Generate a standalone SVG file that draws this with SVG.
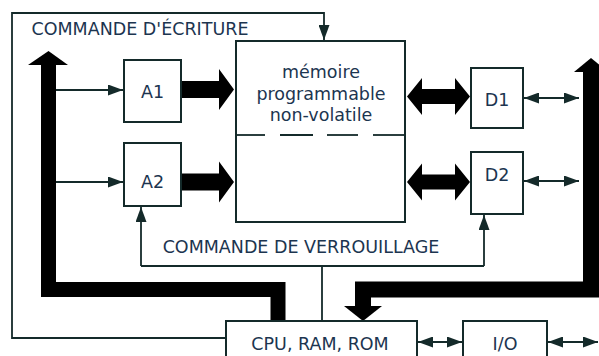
<svg xmlns="http://www.w3.org/2000/svg" width="599" height="356" viewBox="0 0 599 356">
<style>
.box{fill:#fff;stroke:#142a2a;stroke-width:2}
.ln{fill:none;stroke:#142a2a;stroke-width:1.8}
.bus{fill:none;stroke:#000;stroke-linejoin:miter}
.blk{fill:#000}
.hd{fill:#142a2a}
text{font-family:"DejaVu Sans",sans-serif;font-size:17.5px;fill:#1c3550;text-anchor:middle}
</style>
<defs>
<marker id="ah" markerWidth="15" markerHeight="11" refX="15" refY="5.5" orient="auto-start-reverse" markerUnits="userSpaceOnUse">
<path d="M0,0 L15,5.5 L0,11 Z" fill="#142a2a"/>
</marker>
</defs>
<rect width="599" height="356" fill="#fff"/>
<g id="connectors">
<!-- write command loop -->
<polyline class="ln" points="226,338 12,338 12,13 324,13 324,40" marker-end="url(#ah)"/>
<!-- latch command -->
<polyline class="ln" points="322,321 322,266"/>
<polyline class="ln" points="141,266 484,266"/>
<line class="ln" x1="141" y1="266" x2="141" y2="207" marker-end="url(#ah)"/>
<line class="ln" x1="484" y1="266" x2="484" y2="215" marker-end="url(#ah)"/>
<!-- bus to A -->
<line class="ln" x1="56" y1="90" x2="123" y2="90" marker-end="url(#ah)"/>
<line class="ln" x1="56" y1="182" x2="123" y2="182" marker-end="url(#ah)"/>
<!-- D to bus -->
<line class="ln" x1="524" y1="98" x2="579" y2="98" marker-start="url(#ah)" marker-end="url(#ah)"/>
<line class="ln" x1="524" y1="181" x2="579" y2="181" marker-start="url(#ah)" marker-end="url(#ah)"/>
<!-- CPU-I/O -->
<line class="ln" x1="418" y1="342" x2="462" y2="342" marker-start="url(#ah)" marker-end="url(#ah)"/>
<line class="ln" x1="548" y1="342" x2="598" y2="342" marker-start="url(#ah)" marker-end="url(#ah)"/>
<!-- left thick bus -->
<polyline class="bus" stroke-width="15" points="48.5,63 48.5,289.5 278,289.5 278,321"/>
<polygon class="blk" points="28,65 48.5,51 68,65"/>
<!-- right thick bus -->
<polyline class="bus" stroke-width="16" points="591,71 591,289.5 363,289.5 363,307"/>
<polygon class="blk" points="574,72 591,58 608,72"/>
<polygon class="blk" points="344,306 382,306 363,321"/>
<!-- A to memory -->
<polygon class="blk" points="181,81 219,81 219,69 234,89.5 219,110 219,98 181,98"/>
<polygon class="blk" points="181,173.5 219,173.5 219,161.5 234,182 219,202.5 219,190.5 181,190.5"/>
<!-- memory to D -->
<polygon class="blk" points="407,96.5 422,78 422,89 455,89 455,78 470,96.5 455,115 455,104 422,104 422,115"/>
<polygon class="blk" points="407,182 422,163.5 422,174.5 455,174.5 455,163.5 470,182 455,200.5 455,189.5 422,189.5 422,200.5"/>
</g>
<g id="title-ecriture"><text x="140" y="35">COMMANDE D'ÉCRITURE</text></g>
<g id="title-verrouillage"><text x="301" y="253">COMMANDE DE VERROUILLAGE</text></g>
<g id="memoire">
<rect class="box" x="236" y="41" width="169" height="181"/>
<text x="321" y="78">mémoire</text>
<text x="321" y="100">programmable</text>
<text x="321" y="121">non-volatile</text>
<g class="ln" stroke-width="2.2">
<line x1="236" y1="135" x2="265" y2="135"/>
<line x1="280" y1="135" x2="313" y2="135"/>
<line x1="327" y1="135" x2="358" y2="135"/>
<line x1="373" y1="135" x2="405" y2="135"/>
</g>
</g>
<g id="A1"><rect class="box" x="124" y="60" width="57" height="62"/><text x="152.5" y="98">A1</text></g>
<g id="A2"><rect class="box" x="124" y="143" width="57" height="63"/><text x="152.5" y="188">A2</text></g>
<g id="D1"><rect class="box" x="471" y="68" width="52" height="60"/><text x="497" y="106">D1</text></g>
<g id="D2"><rect class="box" x="471" y="152" width="52" height="62"/><text x="497" y="181">D2</text></g>
<g id="CPU"><rect class="box" x="226" y="321" width="191" height="40"/><text x="320" y="350">CPU, RAM, ROM</text></g>
<g id="IO"><rect class="box" x="463" y="321" width="84" height="40"/><text x="505" y="350">I/O</text></g>
</svg>
